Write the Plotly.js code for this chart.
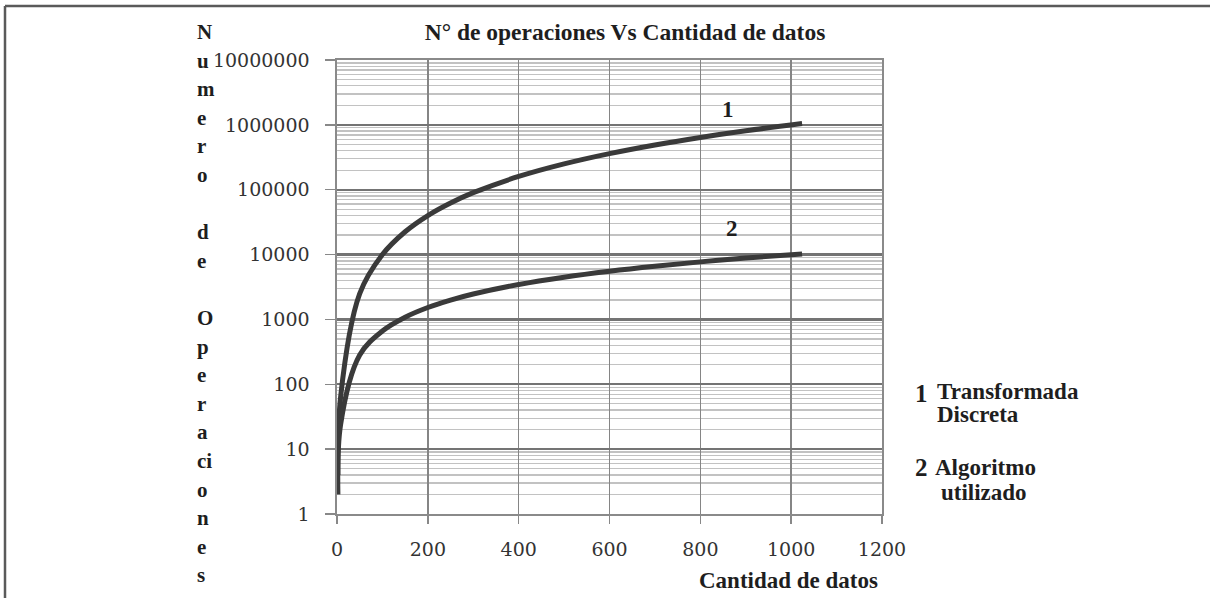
<!DOCTYPE html>
<html>
<head>
<meta charset="utf-8">
<script src="https://cdn.plot.ly/plotly-3.0.1.min.js"></script>
<style>html,body{margin:0;padding:0;background:#fff;}#chart{width:1210px;height:598px;}</style>
</head>
<body>
<div id="chart"></div>
<script>
// Data
const cantidadDatos = [2, 8, 50, 100, 150, 200, 250, 300, 400, 500, 600, 700, 800, 900, 1024];
const transformadaDiscreta = [4, 64, 2500, 10000, 22500, 40000, 62500, 90000, 160000, 250000, 360000, 490000, 640000, 810000, 1048576];
const algoritmoUtilizado = [2, 24, 282, 664, 1084, 1529, 1991, 2469, 3458, 4483, 5537, 6615, 7715, 8832, 10240];
const yTickVals = [1, 10, 100, 1000, 10000, 100000, 1000000, 10000000];
const yTickText = ['1', '10', '100', '1000', '10000', '100000', '1000000', '10000000'];
const xTickVals = [0, 200, 400, 600, 800, 1000, 1200];
const yTitleLines = ['N','u','m','e','r','o','','d','e','','O','p','e','r','a','ci','o','n','e','s'];

const W = 1210, H = 598;
const L = 337, R = 882, T = 60, B = 514;
const px = v => (v - L) / (R - L);
const py = v => (B - v) / (B - T);

const serifB = {family: '"Liberation Serif", "Times New Roman", serif', size: 23, color: '#1e1e1e'};
const tickFont = {family: '"DejaVu Serif", serif', size: 19, color: '#333'};

const lineStyle = {color: '#3a3a3a', width: 5, shape: 'spline', smoothing: 1};

const traces = [
  {x: cantidadDatos, y: transformadaDiscreta, mode: 'lines', line: lineStyle, name: '1', hoverinfo: 'x+y'},
  {x: cantidadDatos, y: algoritmoUtilizado, mode: 'lines', line: lineStyle, name: '2', hoverinfo: 'x+y'}
];

const annotations = [];
yTitleLines.forEach((t, i) => {
  if (!t) return;
  annotations.push({
    xref: 'paper', yref: 'paper', x: px(195), y: py(32 + i * 28.6),
    xanchor: 'left', yanchor: 'middle', text: '<b>' + t + '</b>', showarrow: false,
    font: {...serifB, size: 21}
  });
});
annotations.push(
  {xref: 'paper', yref: 'paper', x: px(788), y: py(580), xanchor: 'center', yanchor: 'middle',
   text: '<b>Cantidad de datos</b>', showarrow: false, font: serifB},
  {xref: 'paper', yref: 'paper', x: px(728), y: py(110), xanchor: 'center', yanchor: 'middle',
   text: '<b>1</b>', showarrow: false, font: serifB},
  {xref: 'paper', yref: 'paper', x: px(732), y: py(228), xanchor: 'center', yanchor: 'middle',
   text: '<b>2</b>', showarrow: false, font: serifB},
  {xref: 'paper', yref: 'paper', x: px(913), y: py(393), xanchor: 'left', yanchor: 'middle',
   text: '<b>1</b>', showarrow: false, font: {...serifB, size: 25}},
  {xref: 'paper', yref: 'paper', x: px(935), y: py(391), xanchor: 'left', yanchor: 'middle',
   text: '<b>Transformada</b>', showarrow: false, font: serifB},
  {xref: 'paper', yref: 'paper', x: px(935), y: py(414), xanchor: 'left', yanchor: 'middle',
   text: '<b>Discreta</b>', showarrow: false, font: serifB},
  {xref: 'paper', yref: 'paper', x: px(913), y: py(467), xanchor: 'left', yanchor: 'middle',
   text: '<b>2</b>', showarrow: false, font: {...serifB, size: 25}},
  {xref: 'paper', yref: 'paper', x: px(933), y: py(467), xanchor: 'left', yanchor: 'middle',
   text: '<b>Algoritmo</b>', showarrow: false, font: serifB},
  {xref: 'paper', yref: 'paper', x: px(939), y: py(492), xanchor: 'left', yanchor: 'middle',
   text: '<b>utilizado</b>', showarrow: false, font: serifB}
);

const shapes = [
  {type: 'line', xref: 'paper', yref: 'paper', x0: px(5), x1: px(1215), y0: py(6), y1: py(6),
   line: {color: '#5a5a5a', width: 2.5}},
  {type: 'line', xref: 'paper', yref: 'paper', x0: px(5), x1: px(5), y0: py(6), y1: py(605),
   line: {color: '#5a5a5a', width: 2.5}}
];

const layout = {
  width: W, height: H,
  margin: {l: L, r: W - R, t: T, b: H - B, pad: 0},
  paper_bgcolor: '#ffffff', plot_bgcolor: '#ffffff',
  showlegend: false,
  title: {text: '<b>N° de operaciones Vs Cantidad de datos</b>', x: 625 / W, xanchor: 'center',
          y: 1 - 32 / H, yanchor: 'middle', font: {...serifB, size: 23.5}},
  xaxis: {
    range: [0, 1200], tickvals: xTickVals, ticks: 'outside', ticklen: 8, tickcolor: '#888',
    tickwidth: 1.5, showgrid: true, gridcolor: '#858585', gridwidth: 1.6,
    showline: true, linecolor: '#8a8a8a', linewidth: 1.6, mirror: true, zeroline: false,
    tickfont: tickFont, ticklabelstandoff: 10, fixedrange: true
  },
  yaxis: {
    type: 'log', range: [0, 7], tickvals: yTickVals, ticktext: yTickText,
    ticks: 'outside', ticklen: 10, tickcolor: '#888', tickwidth: 1.5,
    showgrid: true, gridcolor: '#747474', gridwidth: 2.2,
    minor: {dtick: 'D1', showgrid: true, gridcolor: '#c2c2c2', gridwidth: 1.3, ticks: ''},
    showline: true, linecolor: '#8a8a8a', linewidth: 1.6, mirror: true, zeroline: false,
    tickfont: tickFont, ticklabelstandoff: 12, fixedrange: true
  },
  annotations: annotations,
  shapes: shapes
};

Plotly.newPlot('chart', traces, layout, {displayModeBar: false, staticPlot: true});
</script>
</body>
</html>
